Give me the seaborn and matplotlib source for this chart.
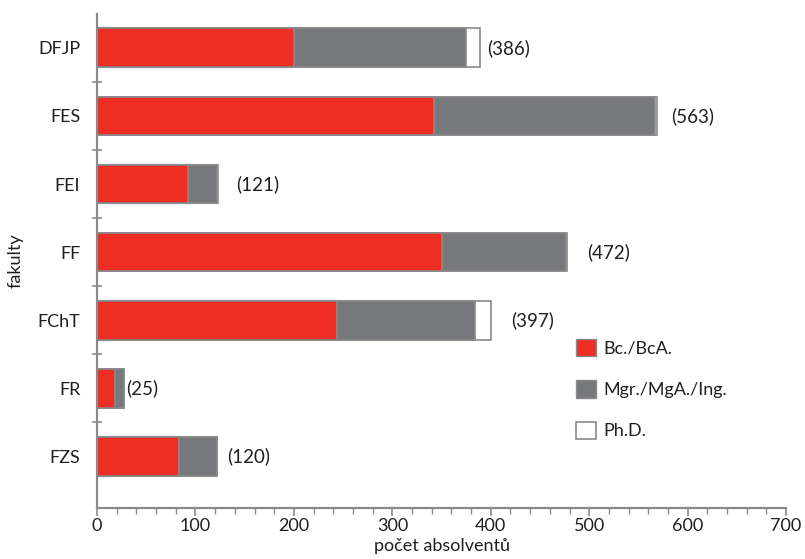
import pandas as pd
import matplotlib
matplotlib.use('Agg')
import matplotlib.pyplot as plt
from matplotlib.patches import Patch
from matplotlib.ticker import MultipleLocator, FixedLocator
import seaborn as sns

# data
fakulty = ['DFJP', 'FES', 'FEI', 'FF', 'FChT', 'FR', 'FZS']
bc      = [200, 342, 92, 350, 244, 18, 83]
mgr     = [175, 225, 30, 126, 140, 9, 39]
phd     = [14, 2, 1, 1, 16, 0, 0]
celkem  = [386, 563, 121, 472, 397, 25, 120]

# gap between bar end and its label (points)
label_gap = [5, 10, 13, 15, 15, 1.5, 7]

df = pd.DataFrame({'fakulta': fakulty, 'bc': bc, 'mgr': mgr, 'phd': phd, 'celkem': celkem})
df['bc_mgr'] = df['bc'] + df['mgr']
df['vse'] = df['bc_mgr'] + df['phd']

sns.set_style('white')
plt.rcParams['font.family'] = ['Lato', 'DejaVu Sans']

red   = '#ee2e24'
grey  = '#77787b'
edge  = '#8a8a8a'
spine = '#8a8a8a'
txt   = '#231f20'

fig = plt.figure(figsize=(8.05, 5.59), dpi=100)
ax = fig.add_axes([0.1205, 0.0912, 0.856, 0.884])

w = 0.57
sns.barplot(data=df, x='vse', y='fakulta', orient='h', color='white',
            edgecolor=edge, linewidth=1.2, width=w, ax=ax, saturation=1)
sns.barplot(data=df, x='bc_mgr', y='fakulta', orient='h', color=grey,
            edgecolor=edge, linewidth=1.2, width=w, ax=ax, saturation=1)
sns.barplot(data=df, x='bc', y='fakulta', orient='h', color=red,
            edgecolor=edge, linewidth=1.2, width=w, ax=ax, saturation=1)

# totals in brackets
for i, (v, t) in enumerate(zip(df['vse'], df['celkem'])):
    ax.annotate(f'({t})', xy=(v, i), xytext=(label_gap[i], 0), textcoords='offset points',
                va='center', ha='left', fontsize=13.5, color=txt)

ax.set_xlim(0, 700)
ax.set_ylim(6.76, -0.5)
ax.xaxis.set_major_locator(MultipleLocator(100))
ax.xaxis.set_minor_locator(MultipleLocator(20))
ax.yaxis.set_minor_locator(FixedLocator([k + 0.5 for k in range(6)]))

ax.tick_params(axis='x', which='major', direction='out', length=6, width=1.2,
               color=spine, labelsize=13, labelcolor=txt, pad=1, bottom=True)
ax.tick_params(axis='x', which='minor', direction='out', length=4, width=1.0,
               color=spine, bottom=True)
ax.tick_params(axis='y', which='major', length=0, labelsize=13,
               labelcolor=txt, pad=12, left=True)
ax.tick_params(axis='y', which='minor', direction='inout', length=7, width=1.2,
               color=spine, left=True)

for s in ['top', 'right']:
    ax.spines[s].set_visible(False)
for s in ['left', 'bottom']:
    ax.spines[s].set_color(spine)
    ax.spines[s].set_linewidth(1.6)

ax.set_xlabel('počet absolventů', fontsize=13, color=txt, labelpad=3)
ax.set_ylabel('fakulty', fontsize=13, color=txt, labelpad=10)

handles = [Patch(facecolor=red, edgecolor=edge, label='Bc./BcA.'),
           Patch(facecolor=grey, edgecolor=edge, label='Mgr./MgA./Ing.'),
           Patch(facecolor='white', edgecolor=edge, linewidth=1.2, label='Ph.D.')]
ax.legend(handles=handles, loc='upper left', bbox_to_anchor=(0.672, 0.375),
          frameon=False, fontsize=13, handlelength=1.1, handleheight=1.1,
          handletextpad=0.4, labelspacing=1.3, labelcolor=txt)

fig.savefig('out.png', dpi=100)
